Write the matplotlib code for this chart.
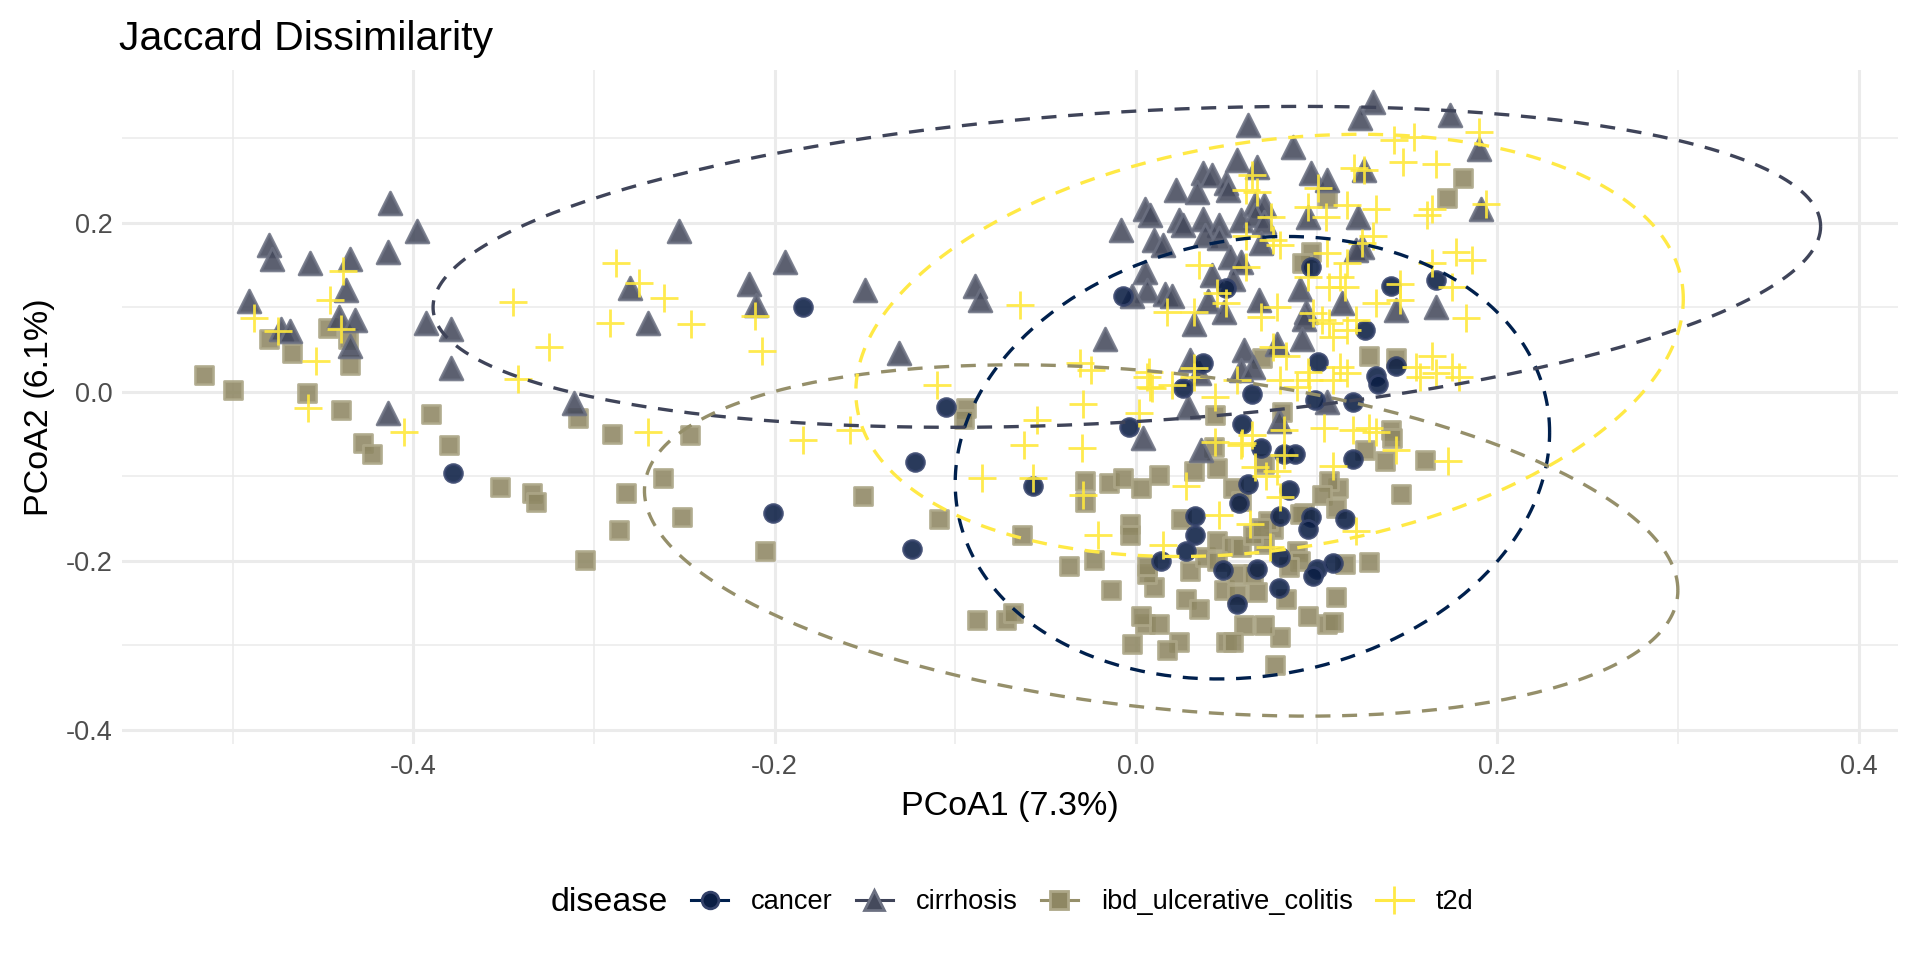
import numpy as np
import matplotlib
matplotlib.use('Agg')
import matplotlib.pyplot as plt
from matplotlib.lines import Line2D

plt.rcParams['font.family'] = ['Liberation Sans', 'DejaVu Sans']
plt.rcParams['axes.unicode_minus'] = False

# points (PCoA1, PCoA2)
cancer_x = [-0.378, -0.184, -0.105, -0.122, -0.201, -0.124, -0.057, -0.004, 0.037, 0.026,
            0.064, 0.059, 0.069, 0.082, 0.088, 0.062, 0.085, 0.057, 0.033, 0.080,
            0.033, 0.028, 0.014, 0.048, 0.067, 0.080, 0.079, 0.056, -0.007, 0.050,
            0.097, 0.141, 0.166, 0.127, 0.101, 0.144, 0.133, 0.134, 0.099, 0.120,
            0.120, 0.097, 0.095, 0.116, 0.100, 0.098, 0.109]
cancer_y = [-0.096, 0.100, -0.018, -0.083, -0.143, -0.186, -0.112, -0.042, 0.034, 0.004,
            -0.002, -0.038, -0.067, -0.074, -0.074, -0.109, -0.116, -0.132, -0.147, -0.147,
            -0.170, -0.188, -0.200, -0.211, -0.210, -0.196, -0.232, -0.251, 0.113, 0.123,
            0.148, 0.125, 0.132, 0.073, 0.035, 0.031, 0.019, 0.009, -0.010, -0.012,
            -0.080, -0.148, -0.163, -0.150, -0.210, -0.218, -0.203]

cirrhosis_x = [0.131, 0.124, 0.174, 0.062, 0.087, 0.190, 0.056, 0.067, 0.037, 0.042,
               0.050, 0.051, 0.022, 0.034, 0.097, 0.106, 0.126, 0.005, 0.008, -0.008,
               0.024, 0.026, 0.037, 0.046, 0.058, 0.066, 0.071, 0.066, 0.071, 0.095,
               0.123, 0.191, 0.010, 0.015, 0.038, 0.046, 0.069, 0.052, 0.058, 0.125,
               0.122, 0.005, 0.042, 0.054, 0.091, 0.006, 0.016, 0.020, -0.002, 0.040,
               0.049, 0.068, 0.032, -0.017, 0.094, 0.093, 0.114, 0.144, 0.166, 0.078,
               0.092, 0.060, 0.030, 0.058, 0.065, 0.029, 0.106, 0.079, 0.004, 0.036,
               0.035, -0.413, -0.398, -0.480, -0.478, -0.457, -0.435, -0.414, -0.491, -0.437,
               -0.441, -0.432, -0.473, -0.468, -0.393, -0.379, -0.435, -0.379, -0.414, -0.311,
               -0.253, -0.280, -0.270, -0.150, -0.089, -0.086, -0.131, -0.194, -0.214, -0.210]
cirrhosis_y = [0.343, 0.324, 0.328, 0.316, 0.290, 0.288, 0.274, 0.266, 0.259, 0.257,
               0.247, 0.239, 0.239, 0.237, 0.259, 0.251, 0.263, 0.217, 0.209, 0.192,
               0.203, 0.197, 0.205, 0.197, 0.203, 0.223, 0.221, 0.209, 0.201, 0.207,
               0.207, 0.217, 0.180, 0.174, 0.186, 0.182, 0.176, 0.160, 0.154, 0.172,
               0.168, 0.142, 0.138, 0.134, 0.122, 0.120, 0.116, 0.114, 0.114, 0.107,
               0.094, 0.109, 0.080, 0.063, 0.094, 0.086, 0.105, 0.097, 0.101, 0.057,
               0.063, 0.050, 0.038, 0.026, 0.030, -0.018, -0.012, -0.035, -0.055, -0.069,
               0.022, 0.224, 0.190, 0.174, 0.157, 0.153, 0.157, 0.166, 0.107, 0.121,
               0.089, 0.085, 0.074, 0.072, 0.081, 0.075, 0.054, 0.028, -0.025, -0.013,
               0.190, 0.123, 0.081, 0.121, 0.125, 0.109, 0.046, 0.154, 0.128, 0.103]

ibd_x = [-0.516, -0.500, -0.480, -0.467, -0.447, -0.436, -0.435, -0.459, -0.440, -0.428,
         -0.423, -0.390, -0.380, -0.309, -0.290, -0.247, -0.262, -0.352, -0.334, -0.332,
         -0.282, -0.251, -0.286, -0.205, -0.305, -0.151, -0.094, -0.095, -0.109, -0.063,
         -0.088, -0.072, -0.068, -0.037, -0.023, -0.028, -0.028,
         0.044, 0.081, 0.141, 0.142, 0.127, 0.138, 0.160, 0.147, 0.112, 0.107,
         0.103, 0.111, 0.093, 0.076, 0.073, 0.071, 0.089, 0.091, 0.085, 0.116,
         0.129, 0.111, 0.095, 0.106, 0.109, 0.080, 0.077, 0.071, 0.060, 0.050,
         0.054, 0.024, 0.017, -0.002, 0.005, 0.013, 0.003, 0.028, 0.035, 0.049,
         0.056, 0.067, 0.083, -0.014, 0.010, 0.006, 0.006, 0.030, 0.038, 0.045,
         0.053, 0.058, 0.065, 0.045, 0.056, 0.065, -0.015, -0.007, 0.003, 0.013,
         0.032, 0.045, -0.003, -0.003, 0.025, 0.054, 0.058, 0.069, 0.043, 0.071,
         0.091, 0.181, 0.172, 0.106, 0.097, 0.092, 0.129, 0.144, 0.070]
ibd_y = [0.020, 0.002, 0.062, 0.046, 0.076, 0.062, 0.032, -0.001, -0.021, -0.061,
         -0.074, -0.026, -0.063, -0.031, -0.050, -0.051, -0.102, -0.113, -0.120, -0.130,
         -0.120, -0.148, -0.164, -0.189, -0.199, -0.123, -0.019, -0.032, -0.150, -0.170,
         -0.270, -0.270, -0.262, -0.206, -0.199, -0.105, -0.130,
         -0.028, -0.024, -0.045, -0.055, -0.069, -0.082, -0.081, -0.121, -0.114, -0.106,
         -0.122, -0.137, -0.143, -0.163, -0.153, -0.180, -0.188, -0.200, -0.208, -0.204,
         -0.202, -0.243, -0.265, -0.275, -0.273, -0.290, -0.324, -0.276, -0.276, -0.296,
         -0.296, -0.296, -0.306, -0.298, -0.275, -0.275, -0.265, -0.245, -0.257, -0.235,
         -0.239, -0.237, -0.245, -0.235, -0.231, -0.216, -0.206, -0.212, -0.196, -0.177,
         -0.182, -0.184, -0.169, -0.200, -0.216, -0.216, -0.108, -0.102, -0.114, -0.098,
         -0.094, -0.090, -0.157, -0.169, -0.151, -0.114, -0.129, -0.161, -0.065, -0.086,
         -0.145, 0.253, 0.229, 0.229, 0.166, 0.152, 0.042, 0.040, 0.040]

t2d_x = [-0.439, -0.446, -0.488, -0.475, -0.440, -0.454, -0.458, -0.405, -0.345, -0.288,
         -0.275, -0.261, -0.325, -0.291, -0.246, -0.342, -0.270, -0.211, -0.207, -0.184,
         -0.158, -0.064, -0.110, -0.031, -0.025, -0.029, -0.055, -0.062, -0.030, -0.085,
         -0.057, -0.029, -0.021, 0.002, 0.007, 0.009, 0.020, 0.032, 0.044, 0.044,
         0.059, 0.028, 0.046, 0.015, 0.063, 0.066, 0.072, 0.078,
         0.190, 0.143, 0.154, 0.148, 0.166, 0.121, 0.126, 0.064, 0.061, 0.067,
         0.095, 0.105, 0.117, 0.133, 0.161, 0.164, 0.194, 0.075, 0.061, 0.076,
         0.080, 0.106, 0.117, 0.125, 0.131, 0.177, 0.186, 0.164, 0.035, 0.061,
         0.095, 0.107, 0.116, 0.113, 0.146, 0.146, 0.133, 0.175, 0.183, 0.017,
         0.032, 0.045, 0.050, 0.069, 0.078, 0.098, 0.103, 0.107, 0.109, 0.117,
         0.122, 0.076, 0.083, 0.113, 0.117, 0.095, 0.109, 0.155, 0.164, 0.175,
         0.157, 0.166, 0.179, 0.006, 0.008, 0.032, 0.080, 0.089, 0.096, 0.056,
         0.101, 0.058, 0.064, 0.082, 0.104, 0.120, 0.129, 0.133, 0.144, 0.173,
         0.109, 0.122, 0.074, 0.082, 0.080]
t2d_y = [0.143, 0.109, 0.087, 0.072, 0.074, 0.036, -0.019, -0.048, 0.106, 0.153,
         0.129, 0.111, 0.053, 0.081, 0.080, 0.015, -0.048, 0.090, 0.048, -0.057,
         -0.045, 0.103, 0.008, 0.034, 0.026, -0.014, -0.033, -0.063, -0.067, -0.102,
         -0.102, -0.122, -0.169, -0.025, 0.024, 0.004, 0.008, 0.028, -0.006, -0.059,
         -0.061, -0.112, -0.146, -0.181, -0.156, -0.089, -0.100, -0.094,
         0.308, 0.298, 0.302, 0.272, 0.270, 0.265, 0.263, 0.257, 0.239, 0.237,
         0.219, 0.207, 0.221, 0.217, 0.209, 0.217, 0.223, 0.207, 0.184, 0.180,
         0.174, 0.164, 0.152, 0.176, 0.184, 0.166, 0.156, 0.152, 0.150, 0.148,
         0.136, 0.124, 0.124, 0.136, 0.128, 0.109, 0.105, 0.124, 0.087, 0.095,
         0.095, 0.117, 0.105, 0.089, 0.101, 0.093, 0.085, 0.081, 0.065, 0.073,
         0.085, 0.053, 0.042, 0.030, 0.022, 0.024, 0.014, 0.030, 0.042, 0.030,
         0.018, 0.022, 0.018, 0.018, 0.006, 0.018, 0.014, 0.006, 0.014, 0.014,
         0.241, -0.063, -0.051, -0.045, -0.043, -0.045, -0.043, -0.047, -0.069, -0.082,
         -0.088, -0.165, -0.184, -0.075, -0.124]

# 95% ellipses: centre, sd x, sd y, covariance
ell_cx = [0.0645, -0.005, 0.014, 0.074]
ell_cy = [-0.078, 0.148, -0.176, 0.055]
ell_sx = [0.1645, 0.384, 0.286, 0.229]
ell_sy = [0.262, 0.190, 0.208, 0.250]
ell_sxy = [0.00494, 0.0184, -0.01687, 0.0126]

diseases = ['cancer', 'cirrhosis', 'ibd_ulcerative_colitis', 't2d']
face_cols = ['#0B1E44', '#454A5C', '#8E8763', '#FFE83C']
edge_cols = ['#34426A', '#6C7182', '#ADA788', '#FFE83C']
line_cols = ['#00204D', '#3F4459', '#958F6A', '#FFE945']
markers = ['o', '^', 's', '+']
sizes = [165, 270, 175, 430]

fig = plt.figure(figsize=(19.2, 9.6), dpi=100)
ax = fig.add_axes([0.0637, 0.225, 0.925, 0.702])

pts = {'cancer': (cancer_x, cancer_y), 'cirrhosis': (cirrhosis_x, cirrhosis_y),
       'ibd_ulcerative_colitis': (ibd_x, ibd_y), 't2d': (t2d_x, t2d_y)}

for i in [2, 1, 0, 3]:
    x, y = pts[diseases[i]]
    if markers[i] == '+':
        ax.scatter(x, y, marker='+', s=sizes[i], color=face_cols[i], linewidths=2.0,
                   alpha=0.9, zorder=3)
    else:
        ax.scatter(x, y, marker=markers[i], s=sizes[i], facecolor=face_cols[i],
                   edgecolor=edge_cols[i], linewidths=2.0, alpha=0.88, zorder=3)

t = np.linspace(0, 2 * np.pi, 300)
for i in range(4):
    l21 = ell_sxy[i] / ell_sx[i]
    l22 = np.sqrt(ell_sy[i] ** 2 - l21 ** 2)
    ex = ell_cx[i] + ell_sx[i] * np.cos(t)
    ey = ell_cy[i] + l21 * np.cos(t) + l22 * np.sin(t)
    ax.plot(ex, ey, color=line_cols[i], lw=2.4, dashes=(4.5, 3.5), zorder=4)

ax.set_xlim(-0.561, 0.422)
ax.set_ylim(-0.417, 0.381)
ax.set_xticks([-0.4, -0.2, 0.0, 0.2, 0.4])
ax.set_xticks([-0.5, -0.3, -0.1, 0.1, 0.3], minor=True)
ax.set_yticks([-0.4, -0.2, 0.0, 0.2])
ax.set_yticks([-0.3, -0.1, 0.1, 0.3], minor=True)
ax.set_xticklabels(['-0.4', '-0.2', '0.0', '0.2', '0.4'])
ax.set_yticklabels(['-0.4', '-0.2', '0.0', '0.2'])
ax.grid(which='major', color='#EBEBEB', lw=2.2)
ax.grid(which='minor', color='#EBEBEB', lw=1.1)
ax.set_axisbelow(True)
for s in ax.spines.values():
    s.set_visible(False)
ax.tick_params(which='both', length=0, labelsize=19.5, labelcolor='#4D4D4D', pad=7)

ax.set_xlabel('PCoA1 (7.3%)', fontsize=24.5, labelpad=8)
ax.set_ylabel('PCoA2 (6.1%)', fontsize=24.5, labelpad=8)
fig.text(0.062, 0.959, 'Jaccard Dissimilarity', fontsize=29.5, ha='left', va='center')

handles = []
for i in range(4):
    if markers[i] == '+':
        h = Line2D([], [], color=line_cols[i], lw=2.2, marker='+', markersize=20,
                   markeredgewidth=2)
    else:
        h = Line2D([], [], color=line_cols[i], lw=2.2, marker=markers[i],
                   markersize={'o': 12, '^': 15, 's': 13}[markers[i]],
                   markerfacecolor=face_cols[i], markeredgecolor=edge_cols[i],
                   markeredgewidth=2)
    handles.append(h)
fig.legend(handles, diseases, loc='center left', bbox_to_anchor=(0.360, 0.06), ncol=4,
           frameon=False, fontsize=19.6, handlelength=1.35, columnspacing=0.85,
           handletextpad=0.85, borderpad=0, borderaxespad=0)
fig.text(0.348, 0.06, 'disease', fontsize=24.5, ha='right', va='center')

fig.savefig('out.png', dpi=100)
